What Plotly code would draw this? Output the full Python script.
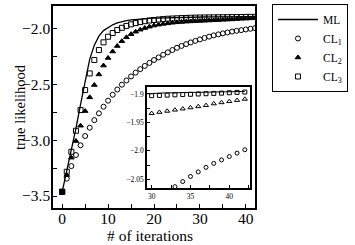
import plotly.graph_objects as go

iterations = list(range(0, 43))

ml = [-3.462, -3.28, -3.09, -2.895, -2.68, -2.46, -2.275, -2.15, -2.07, -2.02,
      -1.99, -1.968, -1.952, -1.94, -1.931, -1.925, -1.92, -1.916, -1.913, -1.91,
      -1.908, -1.9065, -1.905, -1.904, -1.903, -1.902, -1.9015, -1.901, -1.9005, -1.8995,
      -1.899, -1.8985, -1.898, -1.8978, -1.8975, -1.8972, -1.897, -1.8967, -1.8964, -1.8961,
      -1.8958, -1.8956, -1.8955]

cl1 = [-3.462, -3.345, -3.232, -3.133, -3.046, -2.963, -2.889, -2.821, -2.760, -2.701,
       -2.647, -2.594, -2.547, -2.504, -2.466, -2.430, -2.396, -2.365, -2.336, -2.309,
       -2.283, -2.260, -2.236, -2.215, -2.194, -2.174, -2.157, -2.141, -2.126, -2.112,
       -2.099, -2.086, -2.074, -2.063, -2.054, -2.045, -2.037, -2.029, -2.022, -2.016,
       -2.010, -2.004, -1.998]

cl2 = [-3.462, -3.312, -3.157, -3.008, -2.871, -2.740, -2.617, -2.507, -2.412, -2.333,
       -2.265, -2.207, -2.158, -2.115, -2.080, -2.052, -2.030, -2.012, -1.997, -1.985,
       -1.975, -1.967, -1.960, -1.955, -1.950, -1.946, -1.943, -1.940, -1.938, -1.936,
       -1.934, -1.932, -1.930, -1.928, -1.926, -1.924, -1.922, -1.920, -1.917, -1.915,
       -1.913, -1.911, -1.909]

cl3 = [-3.462, -3.283, -3.104, -2.916, -2.731, -2.552, -2.403, -2.283, -2.194, -2.125,
       -2.075, -2.042, -2.015, -1.995, -1.978, -1.964, -1.953, -1.944, -1.936, -1.930,
       -1.925, -1.921, -1.917, -1.914, -1.912, -1.910, -1.908, -1.907, -1.905, -1.904,
       -1.9030, -1.9025, -1.9020, -1.9015, -1.9010, -1.9005, -1.9000, -1.8995, -1.8990, -1.8985,
       -1.8978, -1.8972, -1.8966]

main_x_ticks = [0, 10, 20, 30, 40]
main_y_tickvals = [-2.0, -2.5, -3.0, -3.5]
main_y_ticktext = ["\u22122.0", "\u22122.5", "\u22123.0", "\u22123.5"]
inset_x_ticks = [30, 35, 40]
inset_y_tickvals = [-1.9, -1.95, -2.0, -2.05]
inset_y_ticktext = ["\u22121.9", "\u22121.95", "\u22122.0", "\u22122.05"]

FONT = "Liberation Serif"
BLACK = "black"

fig = go.Figure()

series = [
    ("CL<sub>1</sub>", cl1, "circle-open", 5, 4),
    ("CL<sub>2</sub>", cl2, "triangle-up", 5, 4.5),
    ("CL<sub>3</sub>", cl3, "square-open", 5, 4),
]

# main plot
fig.add_trace(go.Scatter(x=iterations, y=ml, mode="lines", name="ML",
                         line=dict(color=BLACK, width=1.3), xaxis="x", yaxis="y"))
for name, ys, sym, sz, _ in series:
    fig.add_trace(go.Scatter(x=iterations, y=ys, mode="markers", name=name,
                             marker=dict(symbol=sym, size=sz, color=BLACK,
                                         line=dict(width=1, color=BLACK)),
                             xaxis="x", yaxis="y"))
# filled start point
fig.add_trace(go.Scatter(x=[iterations[0]], y=[ml[0]], mode="markers", showlegend=False,
                         marker=dict(symbol="square", size=6, color=BLACK),
                         xaxis="x", yaxis="y"))

# inset
fig.add_trace(go.Scatter(x=iterations, y=ml, mode="lines", showlegend=False,
                         line=dict(color=BLACK, width=1), xaxis="x2", yaxis="y2"))
for name, ys, sym, _, isz in series:
    fig.add_trace(go.Scatter(x=iterations, y=ys, mode="markers", showlegend=False,
                             marker=dict(symbol=sym.replace("triangle-up", "triangle-up-open"),
                                         size=isz, color=BLACK,
                                         line=dict(width=1, color=BLACK)),
                             xaxis="x2", yaxis="y2"))

axis_common = dict(showgrid=False, zeroline=False, showline=True, linecolor=BLACK,
                   mirror=True, ticks="inside", tickcolor=BLACK)

fig.update_layout(
    width=355, height=245,
    margin=dict(l=53, r=100, t=6, b=37, autoexpand=False),
    paper_bgcolor="white", plot_bgcolor="white",
    font=dict(family=FONT, color=BLACK),
    xaxis=dict(**axis_common, range=[-2, 42], tickvals=main_x_ticks, linewidth=1.5,
               ticklen=4, tickwidth=1.2, tickfont=dict(size=15.5), ticklabelstandoff=-4,
               minor=dict(dtick=5, tick0=0, ticks="inside", ticklen=4, tickwidth=1.2, tickcolor=BLACK)),
    yaxis=dict(**axis_common, range=[-3.607, -1.80], tickvals=main_y_tickvals,
               ticktext=main_y_ticktext, linewidth=1.5,
               ticklen=4, tickwidth=1.2, tickfont=dict(size=15.5), ticklabelstandoff=-2,
               minor=dict(dtick=0.25, tick0=0, ticks="inside", ticklen=4, tickwidth=1.2, tickcolor=BLACK)),
    xaxis2=dict(**axis_common, domain=[0.4653, 0.975], anchor="y2", range=[29.4, 42.66],
                tickvals=inset_x_ticks, linewidth=1.5, ticklen=3, tickwidth=1,
                tickfont=dict(size=7.5),
                minor=dict(dtick=2.5, tick0=0, ticks="inside", ticklen=3, tickwidth=1, tickcolor=BLACK)),
    yaxis2=dict(**axis_common, domain=[0.099, 0.599], anchor="x2", range=[-2.0653, -1.8877],
                tickvals=inset_y_tickvals, ticktext=inset_y_ticktext, linewidth=1.5,
                ticklen=3, tickwidth=1, tickfont=dict(size=7.5),
                minor=dict(dtick=0.025, tick0=0, ticks="inside", ticklen=3, tickwidth=1, tickcolor=BLACK)),
    legend=dict(x=1.084, y=1.01, xanchor="left", yanchor="top",
                bordercolor=BLACK, borderwidth=1, bgcolor="white",
                font=dict(family=FONT, size=11.5), itemwidth=40, tracegroupgap=0),
    showlegend=True,
    annotations=[
        dict(text="true likelihood", xref="paper", yref="paper",
             x=(20 - 53) / 202, y=0.5, xanchor="center", yanchor="middle",
             textangle=-90, showarrow=False,
             font=dict(family=FONT, size=14.5, color=BLACK)),
        dict(text="# of iterations", xref="paper", yref="paper",
             x=(150 - 53) / 202, y=(208 - 235) / 202, xanchor="center", yanchor="middle",
             showarrow=False, font=dict(family=FONT, size=15.5, color=BLACK)),
    ],
)

fig.write_html("out.html", config={"displayModeBar": False},
               post_script="document.body.style.margin='0px';document.body.style.padding='0px';")
